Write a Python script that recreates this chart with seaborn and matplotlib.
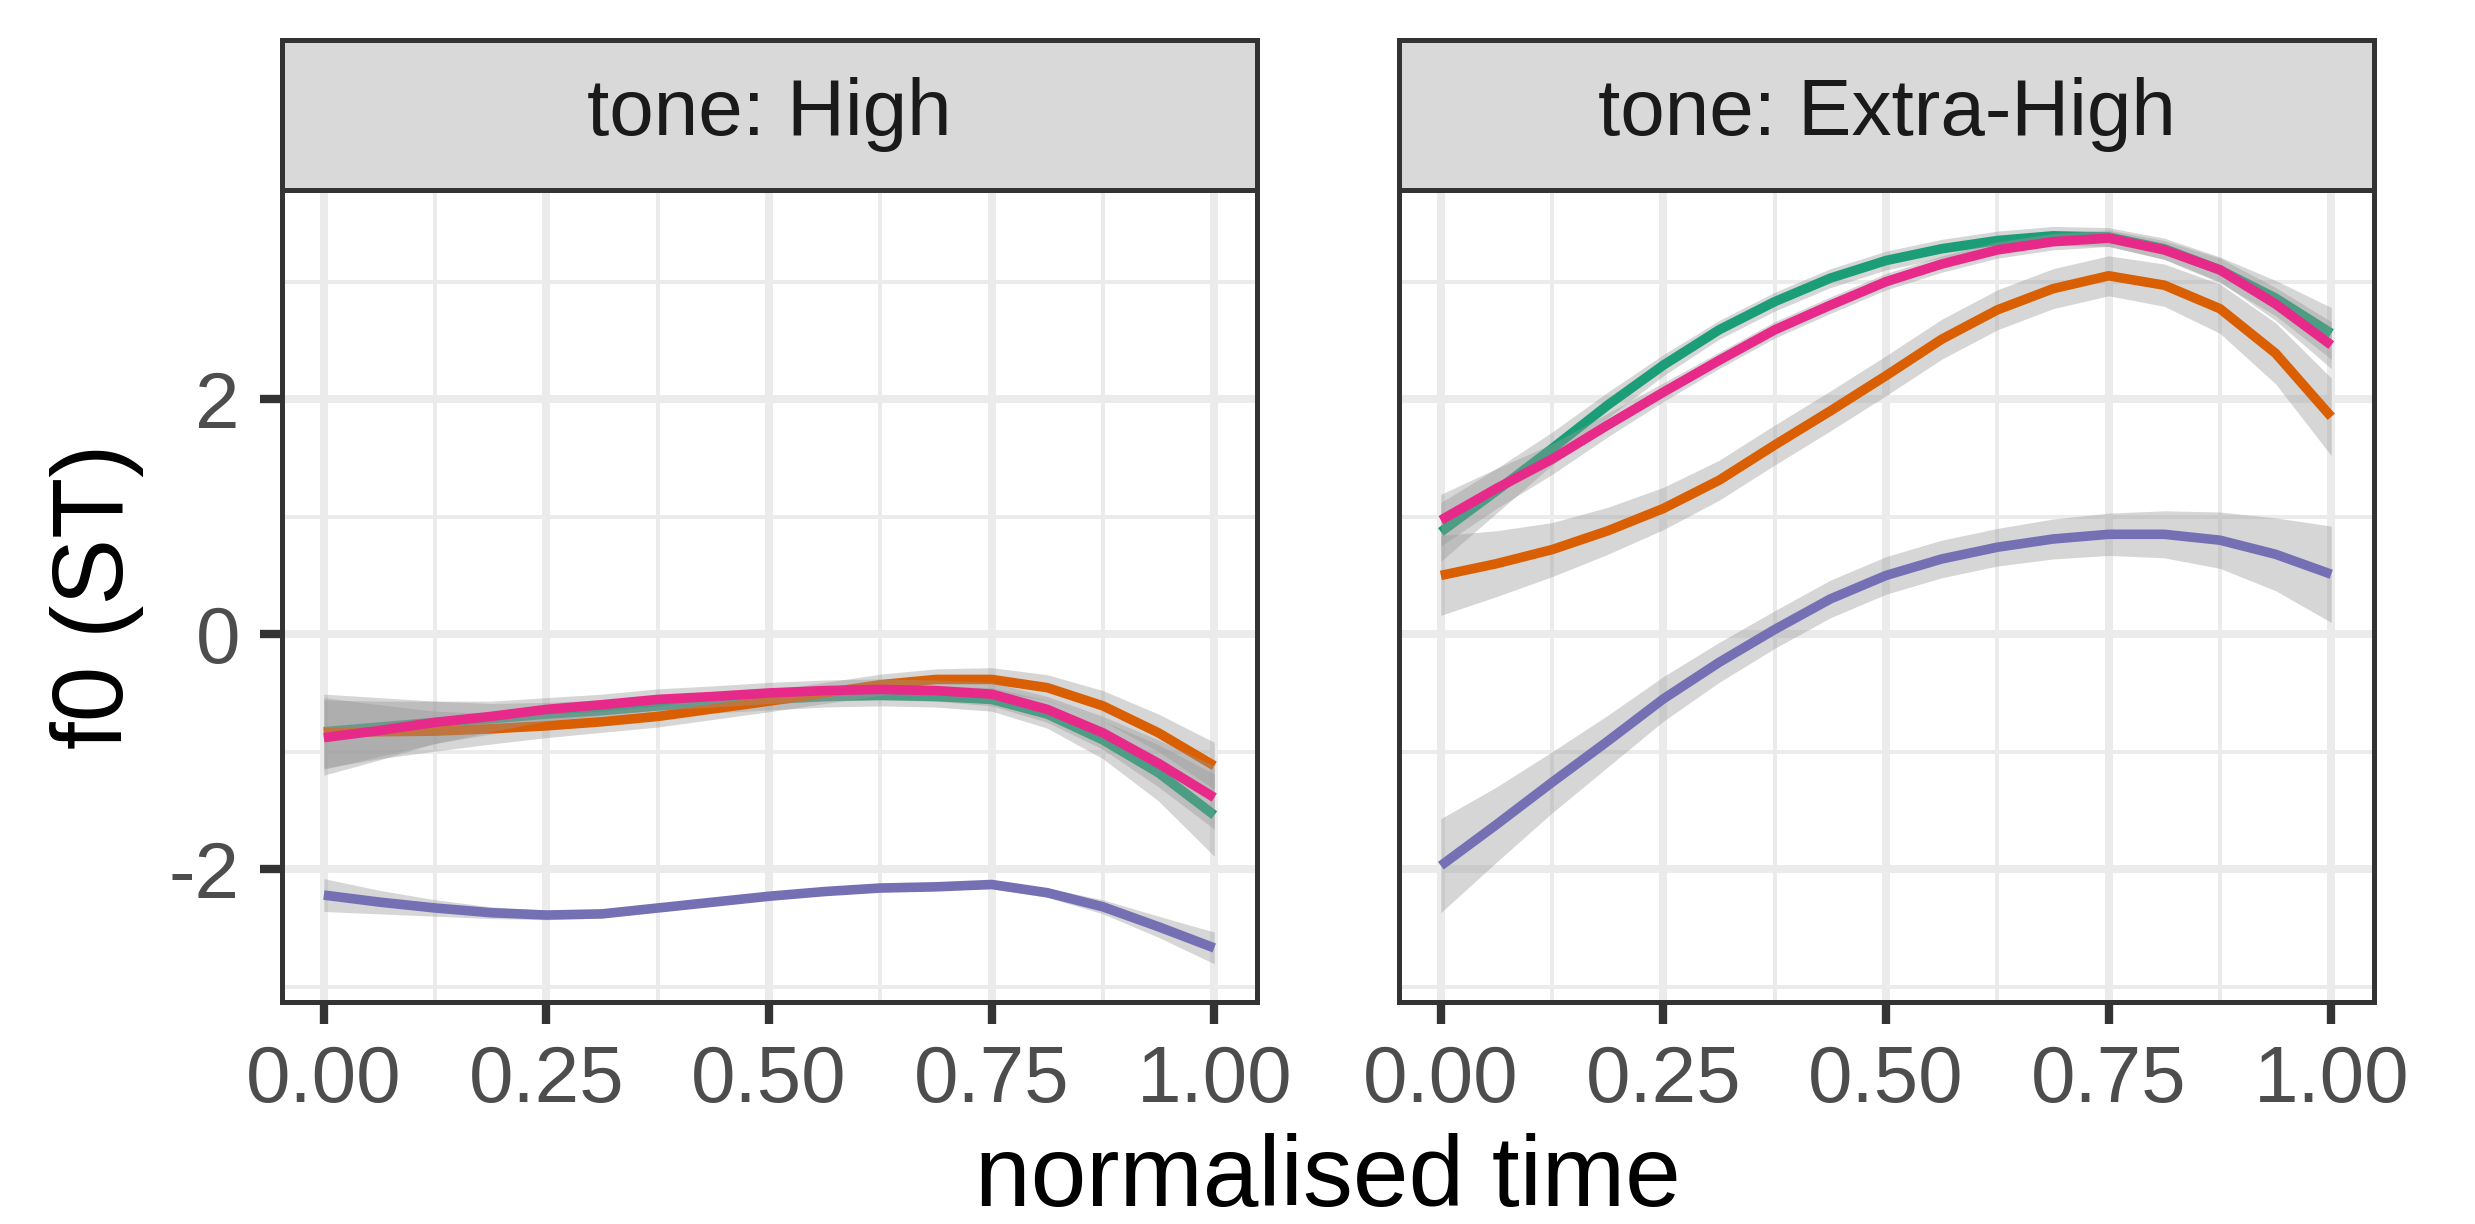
import numpy as np
import pandas as pd
import matplotlib
matplotlib.use("Agg")
import matplotlib.pyplot as plt
from matplotlib.ticker import FixedLocator, FixedFormatter
import seaborn as sns

# ---------------- data ----------------
time = [0.0, 0.0625, 0.125, 0.1875, 0.25, 0.3125, 0.375, 0.4375, 0.5,
        0.5625, 0.625, 0.6875, 0.75, 0.8125, 0.875, 0.9375, 1.0]

groups = ["1", "2", "3", "4"]
palette = ["#1B9E77", "#D95F02", "#7570B3", "#E7298A"]
tones = ["High", "Extra-High"]
strip_labels = ["tone: High", "tone: Extra-High"]

# tone: High
high_g1 = [-0.83, -0.79, -0.75, -0.72, -0.68, -0.65, -0.61, -0.58, -0.555,
           -0.53, -0.52, -0.53, -0.555, -0.68, -0.90, -1.18, -1.54]
high_g2 = [-0.84, -0.83, -0.825, -0.805, -0.78, -0.745, -0.70, -0.635, -0.57,
           -0.50, -0.43, -0.385, -0.385, -0.455, -0.61, -0.84, -1.12]
high_g3 = [-2.22, -2.28, -2.33, -2.37, -2.39, -2.38, -2.33, -2.28, -2.23,
           -2.19, -2.16, -2.15, -2.13, -2.20, -2.32, -2.49, -2.67]
high_g4 = [-0.88, -0.82, -0.75, -0.70, -0.64, -0.60, -0.555, -0.53, -0.50,
           -0.48, -0.47, -0.48, -0.51, -0.64, -0.84, -1.10, -1.39]

# tone: Extra-High
xhigh_g1 = [0.87, 1.22, 1.58, 1.95, 2.29, 2.59, 2.83, 3.03, 3.18,
            3.28, 3.35, 3.39, 3.38, 3.28, 3.10, 2.86, 2.56]
xhigh_g2 = [0.50, 0.60, 0.72, 0.88, 1.07, 1.31, 1.61, 1.90, 2.20,
            2.51, 2.76, 2.94, 3.05, 2.97, 2.77, 2.39, 1.85]
xhigh_g3 = [-1.97, -1.62, -1.26, -0.91, -0.55, -0.24, 0.04, 0.30, 0.50,
            0.64, 0.74, 0.81, 0.85, 0.85, 0.80, 0.68, 0.51]
xhigh_g4 = [0.97, 1.24, 1.49, 1.78, 2.06, 2.33, 2.59, 2.80, 3.00,
            3.15, 3.27, 3.34, 3.37, 3.27, 3.10, 2.81, 2.46]

# confidence band half-widths
high_ci_g1 = [0.32, 0.25, 0.18, 0.13, 0.10, 0.09, 0.09, 0.09, 0.09,
              0.09, 0.09, 0.09, 0.10, 0.12, 0.16, 0.24, 0.35]
high_ci_g2 = [0.30, 0.23, 0.17, 0.13, 0.10, 0.09, 0.09, 0.09, 0.09,
              0.09, 0.09, 0.09, 0.10, 0.11, 0.13, 0.16, 0.20]
high_ci_g3 = [0.14, 0.10, 0.07, 0.05, 0.04, 0.035, 0.03, 0.03, 0.03,
              0.03, 0.03, 0.03, 0.035, 0.04, 0.06, 0.09, 0.135]
high_ci_g4 = [0.32, 0.25, 0.18, 0.13, 0.10, 0.09, 0.09, 0.09, 0.09,
              0.09, 0.09, 0.09, 0.10, 0.11, 0.14, 0.20, 0.27]

xhigh_ci_g1 = [0.25, 0.19, 0.14, 0.11, 0.09, 0.08, 0.08, 0.08, 0.08,
               0.08, 0.08, 0.08, 0.08, 0.09, 0.11, 0.15, 0.22]
xhigh_ci_g2 = [0.34, 0.28, 0.23, 0.20, 0.18, 0.17, 0.17, 0.17, 0.17,
               0.17, 0.17, 0.17, 0.17, 0.18, 0.21, 0.26, 0.33]
xhigh_ci_g3 = [0.40, 0.32, 0.26, 0.22, 0.19, 0.17, 0.16, 0.16, 0.16,
               0.16, 0.16, 0.17, 0.18, 0.20, 0.24, 0.31, 0.41]
xhigh_ci_g4 = [0.22, 0.17, 0.13, 0.10, 0.08, 0.07, 0.07, 0.07, 0.07,
               0.07, 0.07, 0.07, 0.07, 0.08, 0.10, 0.14, 0.20]

x_ticks = [0.0, 0.25, 0.5, 0.75, 1.0]
x_tick_labels = ["0.00", "0.25", "0.50", "0.75", "1.00"]
y_ticks = [-2, 0, 2]
y_tick_labels = ["-2", "0", "2"]

series = {
    "High": [high_g1, high_g2, high_g3, high_g4],
    "Extra-High": [xhigh_g1, xhigh_g2, xhigh_g3, xhigh_g4],
}
bands = {
    "High": [high_ci_g1, high_ci_g2, high_ci_g3, high_ci_g4],
    "Extra-High": [xhigh_ci_g1, xhigh_ci_g2, xhigh_ci_g3, xhigh_ci_g4],
}

rows = []
for tone in tones:
    for g, vals, ci in zip(groups, series[tone], bands[tone]):
        for t, v, c in zip(time, vals, ci):
            rows.append({"tone": tone, "group": g, "time": t, "f0": v,
                         "lo": v - c, "hi": v + c})
df = pd.DataFrame(rows)

# ---------------- style ----------------
sns.set_theme(style="white")
plt.rcParams["font.family"] = ["Liberation Sans", "DejaVu Sans"]

W, H = 2475, 1224
fig = plt.figure(figsize=(W / 300, H / 300), dpi=300)

dark = "#333333"
grid_c = "#EBEBEB"

panel_x = [282 / W, 1399 / W]
pw = 975 / W
pb = 1 - 1002 / H
ph = (1002 - 190) / H
sb = 1 - 190 / H
sh = (190 - 40) / H

xlim = (-0.047, 1.048)
ylim = (-3.13, 3.78)

for i, tone in enumerate(tones):
    ax = fig.add_axes([panel_x[i], pb, pw, ph])
    sub = df[df["tone"] == tone]
    for k, g in enumerate(groups):
        d = sub[sub["group"] == g]
        ax.fill_between(d["time"], d["lo"], d["hi"], color="#999999",
                        alpha=0.4, linewidth=0, zorder=3 + 2 * k)
        n_before = len(ax.lines)
        sns.lineplot(data=d, x="time", y="f0", color=palette[k], ax=ax,
                     legend=False, errorbar=None)
        for ln in ax.lines[n_before:]:
            ln.set_linewidth(2.3)
            ln.set_zorder(4 + 2 * k)
            ln.set_solid_joinstyle("round")
            ln.set_solid_capstyle("butt")
    ax.set_xlim(*xlim)
    ax.set_ylim(*ylim)
    ax.xaxis.set_major_locator(FixedLocator(x_ticks))
    ax.xaxis.set_major_formatter(FixedFormatter(x_tick_labels))
    ax.xaxis.set_minor_locator(FixedLocator([0.125, 0.375, 0.625, 0.875]))
    ax.yaxis.set_major_locator(FixedLocator(y_ticks))
    ax.yaxis.set_major_formatter(FixedFormatter(y_tick_labels))
    ax.yaxis.set_minor_locator(FixedLocator([-3, -1, 1, 3]))
    ax.grid(True, which="major", color=grid_c, linewidth=1.9, zorder=0)
    ax.grid(True, which="minor", color=grid_c, linewidth=0.95, zorder=0)
    ax.set_axisbelow(True)
    ax.set_xlabel("")
    ax.set_ylabel("")
    ax.tick_params(axis="both", which="major", length=5.3, width=2.0,
                   color=dark, labelcolor="#4D4D4D", labelsize=19.2, pad=4.8,
                   direction="out")
    ax.tick_params(axis="both", which="minor", length=0)
    if i == 1:
        ax.tick_params(axis="y", which="major", left=False, labelleft=False)
    else:
        ax.tick_params(axis="y", which="major", left=True)
    ax.tick_params(axis="x", which="major", bottom=True)
    for s in ax.spines.values():
        s.set_color(dark)
        s.set_linewidth(1.2)
        s.set_zorder(20)
        s.set_visible(True)
    ax.set_facecolor("white")

    sax = fig.add_axes([panel_x[i], sb, pw, sh])
    sax.set_facecolor("#D9D9D9")
    sax.set_xticks([])
    sax.set_yticks([])
    for s in sax.spines.values():
        s.set_color(dark)
        s.set_linewidth(1.2)
        s.set_visible(True)
    sax.text(0.5, 0.5, strip_labels[i], ha="center", va="center",
             fontsize=19.2, color="#1A1A1A", transform=sax.transAxes)

fig.text((282 + 2374) / 2 / W, 1 - 1180 / H, "normalised time", ha="center",
         va="center", fontsize=24, color="black")
fig.text(97 / W, 1 - 596 / H, "f0 (ST)", ha="center", va="center",
         rotation=90, fontsize=24, color="black")

fig.savefig("out.png", dpi=300, facecolor="white")
